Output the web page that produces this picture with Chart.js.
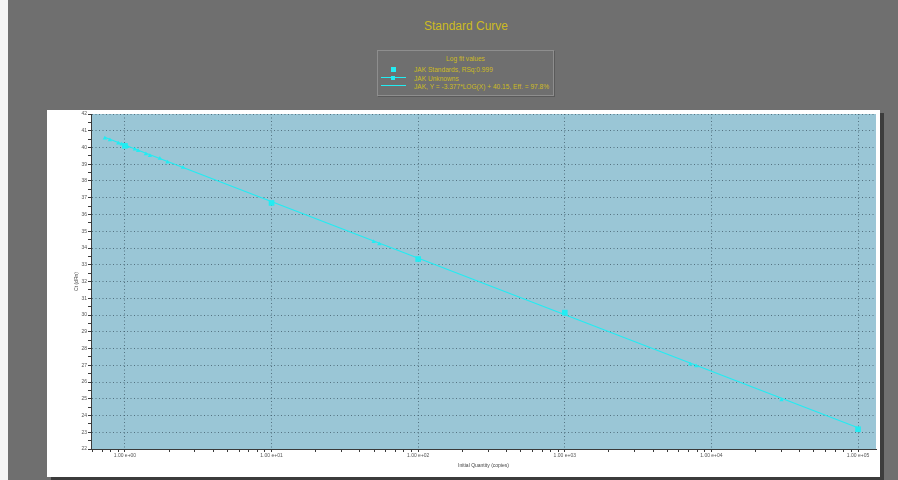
<!DOCTYPE html>
<html><head><meta charset="utf-8">
<script src="https://cdn.jsdelivr.net/npm/chart.js@4"></script>
<style>
html,body{margin:0;padding:0;}
body{width:898px;height:480px;background:#6f6f6f;position:relative;overflow:hidden;font-family:"Liberation Sans",Arial,sans-serif;}
#strip{position:absolute;left:0;top:0;width:8px;height:480px;background:#f4f4f4;}
#title{position:absolute;left:466px;top:19px;transform:translateX(-50%);font-size:12px;color:#cdbb22;white-space:nowrap;}
#legend{position:absolute;left:377px;top:50px;width:175px;height:44px;border:1px solid #8e8e8e;box-shadow:1px 1px 0 #5a5a5a;}
#legend .t{position:absolute;left:0;width:175px;top:4px;text-align:center;font-size:6.6px;color:#cdbb22;}
#legend .e{position:absolute;left:36px;font-size:6.6px;color:#cdbb22;white-space:nowrap;}
#legend .sym{position:absolute;background:#22ecf2;}
#panel{position:absolute;left:47px;top:110px;width:833px;height:367px;background:#fff;box-shadow:4px 3px 0 #3c3c3c;}
#c{position:absolute;left:0;top:0;}
</style></head>
<body>
<div id="strip"></div>
<div id="title">Standard Curve</div>
<div id="legend">
  <div class="t">Log fit values</div>
  <div class="sym" style="left:13px;top:16px;width:5px;height:5px;"></div>
  <div class="e" style="top:15px;">JAK Standards, RSq:0.999</div>
  <div class="sym" style="left:3px;top:26px;width:25px;height:1px;"></div>
  <div class="sym" style="left:13px;top:24.5px;width:4px;height:4px;"></div>
  <div class="e" style="top:23.5px;">JAK Unknowns</div>
  <div class="sym" style="left:3px;top:34px;width:25px;height:1px;"></div>
  <div class="e" style="top:32px;">JAK, Y = -3.377*LOG(X) + 40.15, Eff. = 97.8%</div>
</div>
<div id="panel"><canvas id="c" width="833" height="367"></canvas></div>
<script>
// ---- data ----
const standardsX = [1, 10, 100, 1000, 100000];
const standardsY = [40.1, 36.69, 33.34, 30.14, 23.18];

const unknownsX = [0.73, 0.79, 0.90, 0.95, 1.04, 1.17, 1.23, 1.39, 1.48, 1.73, 1.95, 2.49, 49.7, 54.3, 7160, 7870, 30070];
const unknownsY = [40.55, 40.45, 40.25, 40.19, 40.05, 39.89, 39.81, 39.61, 39.51, 39.35, 39.12, 38.8, 34.38, 34.24, 27.06, 26.96, 24.93];

const fitLineX = [0.72, 100000];
const fitLineY = [40.63, 23.27];

const xTickValues = [1, 10, 100, 1000, 10000, 100000];
const xTickLabels = ['1.00 e+00', '1.00 e+01', '1.00 e+02', '1.00 e+03', '1.00 e+04', '1.00 e+05'];
const yTickValues = [22,23,24,25,26,27,28,29,30,31,32,33,34,35,36,37,38,39,40,41,42];
const yTickLabels = ['22','23','24','25','26','27','28','29','30','31','32','33','34','35','36','37','38','39','40','41','42'];

const xMin = 0.587, xMax = 132600;
const yMin = 22, yMax = 42;

const CYAN = '#22ecf2';
const GRID = 'rgba(60,85,100,0.75)';
const AXIS = '#3a3a3a';

function pts(xs, ys){ return xs.map((x,i)=>({x:x, y:ys[i]})); }

// minor tick positions (1..9 per decade) for the log axis
const xTickPositions = [];
for (let d = -1; d <= 5; d++) {
  for (let m = 1; m <= 9; m++) {
    const v = m * Math.pow(10, d);
    const exact = xTickValues.find(t => Math.abs(t - v) / v < 1e-9);
    const val = exact !== undefined ? exact : v;
    if (val >= xMin && val <= xMax) xTickPositions.push(val);
  }
}
const yTickPositions = [];
for (let i = 0; i < yTickValues.length; i++) {
  yTickPositions.push(yTickValues[i]);
  if (i < yTickValues.length - 1) yTickPositions.push(yTickValues[i] + 0.5);
}

const bgPlugin = {
  id: 'plotBg',
  beforeDraw(chart) {
    const a = chart.chartArea, c = chart.ctx;
    c.save(); c.fillStyle = '#9ac6d6';
    c.fillRect(a.left, a.top, a.right - a.left, a.bottom - a.top);
    c.restore();
  }
};

new Chart(document.getElementById('c'), {
  type: 'scatter',
  data: { datasets: [
    { label: 'fit', data: pts(fitLineX, fitLineY), showLine: true, borderColor: CYAN, borderWidth: 1.2, pointRadius: 0, order: 3 },
    { label: 'JAK Unknowns', data: pts(unknownsX, unknownsY), pointStyle: 'triangle', pointRadius: 2.5, backgroundColor: CYAN, borderColor: CYAN, borderWidth: 0, order: 2 },
    { label: 'JAK Standards', data: pts(standardsX, standardsY), pointStyle: 'rect', pointRadius: 4, backgroundColor: CYAN, borderColor: CYAN, borderWidth: 0, order: 1 }
  ]},
  options: {
    animation: false, responsive: false, devicePixelRatio: 1,
    layout: { padding: { left: 0, top: 4, right: 3, bottom: 0 } },
    plugins: { legend: { display: false }, tooltip: { enabled: false } },
    scales: {
      x: {
        type: 'logarithmic', min: xMin, max: xMax,
        afterBuildTicks: s => { s.ticks = xTickPositions.map(v => ({ value: v })); },
        afterFit: s => { s.height = 28; },
        ticks: { autoSkip: false, maxRotation: 0, minRotation: 0, padding: 1, color: '#555', font: { size: 5, family: 'Liberation Sans' },
          callback: v => { const i = xTickValues.indexOf(v); return i >= 0 ? xTickLabels[i] : ''; } },
        grid: { color: c => (c.tick && xTickValues.indexOf(c.tick.value) >= 0) ? GRID : 'rgba(0,0,0,0)', tickColor: AXIS, tickLength: 3, lineWidth: 1 },
        border: { display: true, color: AXIS, width: 1, dash: [1, 2.5] },
        title: { display: true, text: 'Initial Quantity (copies)', color: '#444', font: { size: 5, family: 'Liberation Sans' }, padding: { top: 0, bottom: 8 } }
      },
      y: {
        type: 'linear', min: yMin, max: yMax,
        afterBuildTicks: s => { s.ticks = yTickPositions.map(v => ({ value: v })); },
        afterFit: s => { s.width = 44; },
        ticks: { autoSkip: false, padding: 1, color: '#555', font: { size: 5, family: 'Liberation Sans' },
          callback: v => { const i = yTickValues.indexOf(v); return i >= 0 ? yTickLabels[i] : ''; } },
        grid: { color: c => (c.tick && yTickValues.indexOf(c.tick.value) >= 0) ? GRID : 'rgba(0,0,0,0)', tickColor: AXIS, tickLength: 3, lineWidth: 1 },
        border: { display: true, color: AXIS, width: 1, dash: [1, 2.5] },
        title: { display: true, text: 'Ct (dRn)', color: '#444', font: { size: 5, family: 'Liberation Sans' }, padding: { top: 26.5, bottom: 0 } }
      }
    }
  },
  plugins: [bgPlugin]
});
</script>
</body></html>
